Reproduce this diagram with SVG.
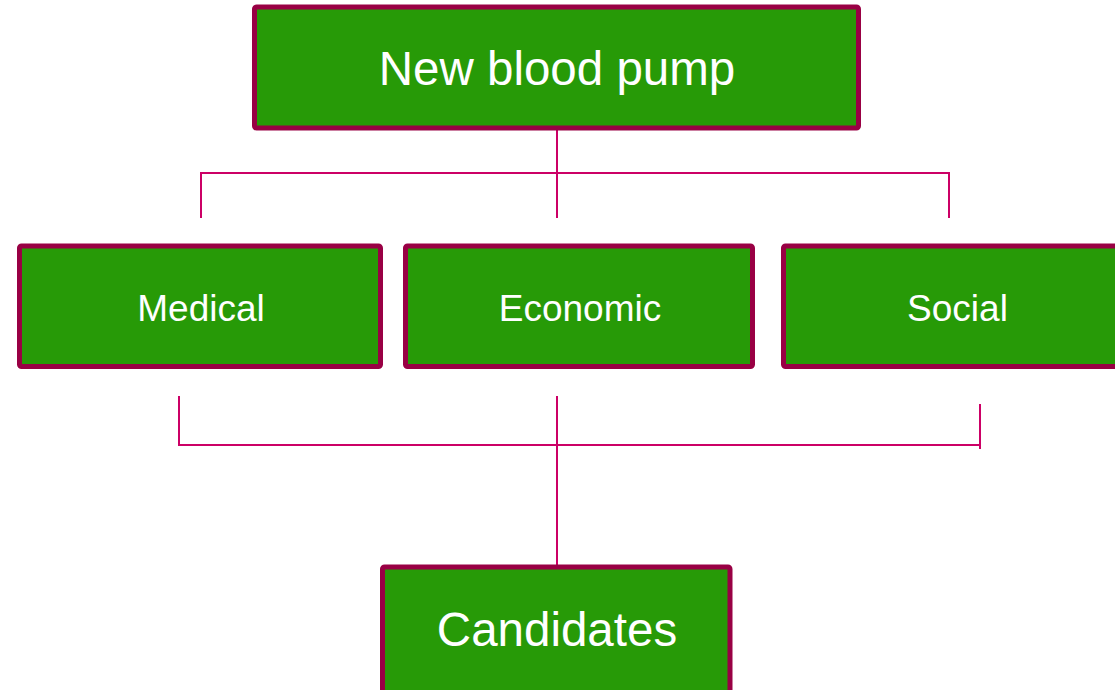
<svg xmlns="http://www.w3.org/2000/svg" width="1115" height="690" viewBox="0 0 1115 690">
  <style>
    .box { fill: #279a07; stroke: #990044; stroke-width: 5; }
    .lbl { fill: #ffffff; font-family: "Liberation Sans", Arial, sans-serif; text-anchor: middle; }
    .big { font-size: 47.5px; }
    .mid { font-size: 37px; }
    .wire { stroke: #cc0066; stroke-width: 2; fill: none; }
  </style>
  <rect width="1115" height="690" fill="#ffffff"/>

  <g id="connectors">
    <!-- top fan-out -->
    <path class="wire" d="M557 130 V218 M201 218 V173 H949 V218"/>
    <!-- bottom gather -->
    <path class="wire" d="M179 396 V445 H981 M980 404 V449 M557 396 V567"/>
  </g>

  <g id="node-pump">
    <rect class="box" x="254.5" y="7" width="604" height="121" rx="2"/>
    <text class="lbl big" x="557" y="85">New blood pump</text>
  </g>

  <g id="node-medical">
    <rect class="box" x="19.5" y="246" width="361" height="120.5" rx="2"/>
    <text class="lbl mid" x="201" y="320.5">Medical</text>
  </g>

  <g id="node-economic">
    <rect class="box" x="405.5" y="246" width="347" height="120.5" rx="2"/>
    <text class="lbl mid" x="580" y="320.5">Economic</text>
  </g>

  <g id="node-social">
    <rect class="box" x="783.5" y="246" width="360" height="120.5" rx="2"/>
    <text class="lbl mid" x="957.5" y="320.5">Social</text>
  </g>

  <g id="node-candidates">
    <rect class="box" x="382.5" y="567" width="347.5" height="130" rx="2"/>
    <text class="lbl big" x="557" y="646">Candidates</text>
  </g>
</svg>
